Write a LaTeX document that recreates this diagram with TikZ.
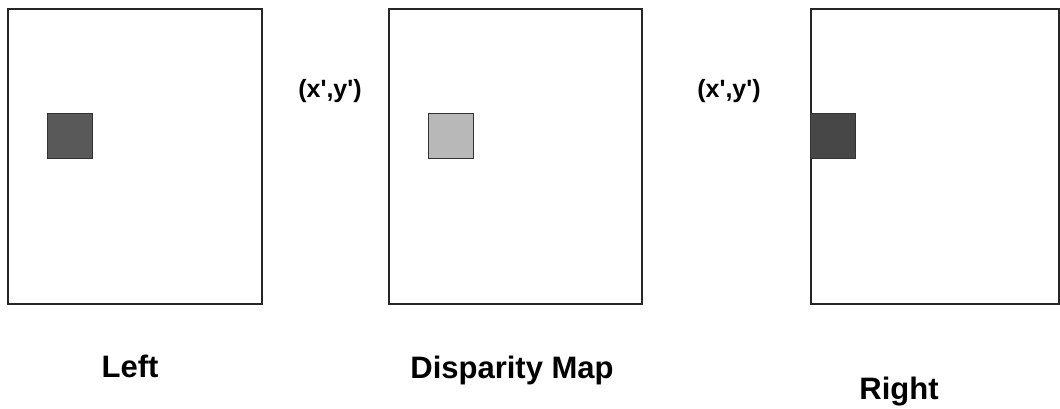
\documentclass[tikz,border=0pt]{standalone}
\usepackage{fontspec}
\setmainfont{Liberation Sans}
\begin{document}
\begin{tikzpicture}[x=1pt,y=-1pt,
  frame/.style={draw=black!85,line width=1.8pt,anchor=north west,inner sep=0pt},
  patch/.style={draw=black!80,line width=1.2pt,anchor=north west,inner sep=0pt,minimum width=45pt,minimum height=45pt},
  lbl/.style={font=\fontsize{31}{34}\selectfont\bfseries,inner sep=0pt,anchor=base},
  coord/.style={font=\fontsize{25}{28}\selectfont\bfseries,inner sep=0pt}]
\useasboundingbox (0,0) rectangle (1060,408);
\node[frame,minimum width=254pt,minimum height=295pt] (L) at (7,8) {};
\node[frame,minimum width=253pt,minimum height=295pt] (D) at (388,8) {};
\node[frame,minimum width=248pt,minimum height=295pt] (R) at (810,8) {};
\node[patch,fill=black!65] (pl) at (47,113) {};
\node[patch,fill=black!28] (pd) at (428,113) {};
\node[patch,fill=black!72] (pr) at (810,113) {};
\node[coord] (c1) at (330,91) {(x\textquotesingle,y\textquotesingle)};
\node[coord] (c2) at (729,91) {(x\textquotesingle,y\textquotesingle)};
\node[lbl] (tl) at (130,377) {Left};
\node[lbl] (td) at (512,378) {Disparity Map};
\node[lbl] (tr) at (899,399) {Right};
\end{tikzpicture}
\end{document}
